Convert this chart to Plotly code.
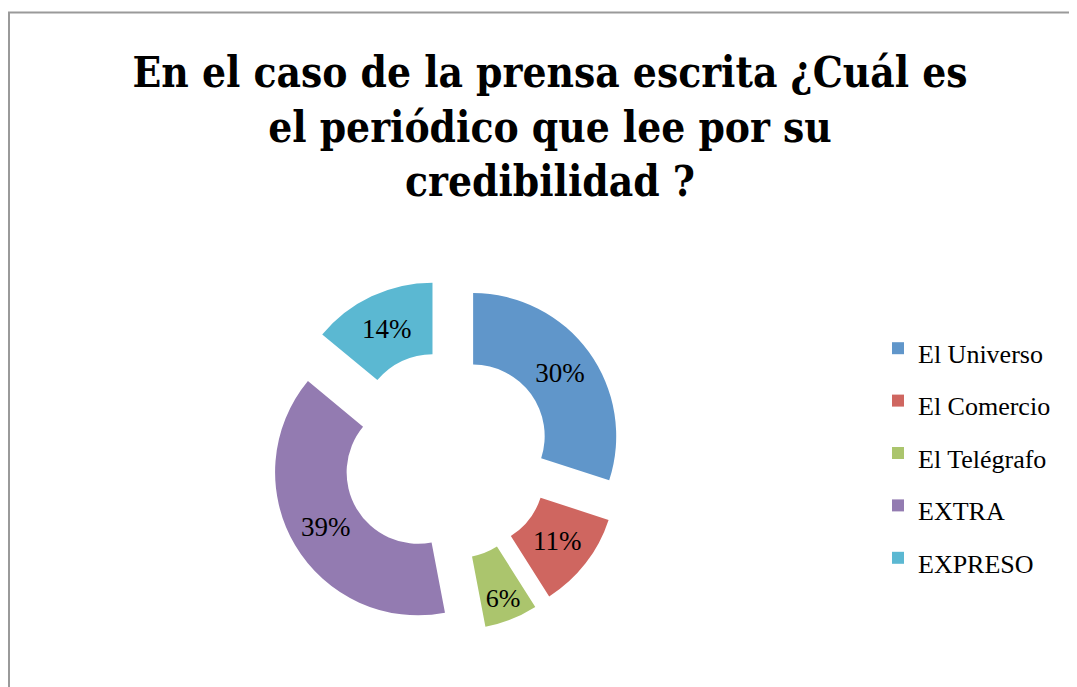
import plotly.graph_objects as go

# survey answers, percent of readers
periodicos = ["El Universo", "El Comercio", "El Telégrafo", "EXTRA", "EXPRESO"]
porcentajes = [30, 11, 6, 39, 14]
colores = ["#6096CA", "#CF6660", "#ABC56D", "#937BB1", "#5BB8D2"]

titulo = "En el caso de la prensa escrita ¿Cuál es<br>el periódico que lee por su<br>credibilidad ?"

SERIF = "Liberation Serif"
# the page body has an 8px margin, so the figure fills what is left of the window
W, H = 1069, 679

# legend font is large only to space the rows out; the visible text is smaller
leyenda = [f'<span style="font-size:26px">{p}</span>' for p in periodicos]

fig = go.Figure(
    go.Pie(
        labels=leyenda,
        values=porcentajes,
        hole=0.5,
        pull=0.23,
        sort=False,
        direction="clockwise",
        rotation=0,
        marker=dict(colors=colores, line=dict(width=0)),
        textinfo="percent",
        textposition="inside",
        insidetextorientation="horizontal",
        textfont=dict(family=SERIF, size=27, color="black"),
        domain=dict(x=[262.5 / W, 614.5 / W], y=[55.5 / H, 407.5 / H]),
        hoverinfo="skip",
    )
)

fig.update_layout(
    width=W,
    height=H,
    margin=dict(l=0, r=0, t=0, b=0),
    paper_bgcolor="white",
    plot_bgcolor="white",
    title=dict(
        text=titulo,
        x=542 / W,
        xanchor="center",
        y=1 - 79 / H,
        yanchor="top",
        font=dict(family="DejaVu Serif Condensed, DejaVu Serif", size=42,
                  color="black", weight="bold"),
    ),
    legend=dict(
        x=870 / W,
        xanchor="left",
        y=1 - 309 / H,
        yanchor="top",
        font=dict(family=SERIF, size=38, color="black"),
        itemwidth=30,
        bgcolor="rgba(0,0,0,0)",
    ),
    shapes=[
        dict(
            type="rect",
            xref="paper",
            yref="paper",
            x0=1 / W,
            x1=1.05,
            y0=-0.05,
            y1=1 - 4.5 / H,
            line=dict(color="#9A9A9A", width=2),
        )
    ],
)

fig.write_html("out.html")
